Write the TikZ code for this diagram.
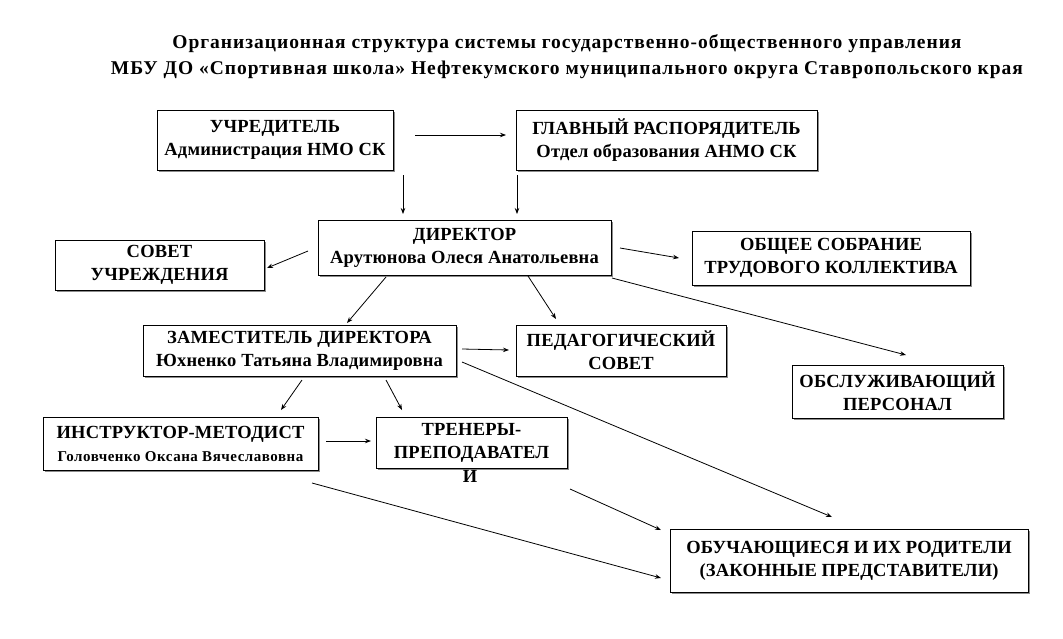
\documentclass[tikz,border=0pt]{standalone}
\usepackage{fontspec}
\setmainfont{Liberation Serif}[BoldFont={Liberation Serif Bold}]
\newfontfamily\boxfont{Liberation Serif}[BoldFont={Liberation Serif Bold},LetterSpace=1]
\newfontfamily\ttlfont{Liberation Serif}[BoldFont={Liberation Serif Bold},LetterSpace=5]
\newfontfamily\smfont{Liberation Serif}[BoldFont={Liberation Serif Bold},LetterSpace=3.5]
\usetikzlibrary{arrows.meta,shadows}
\begin{document}
\begin{tikzpicture}[x=1pt,y=-1pt,
  box/.style={draw=black,line width=0.9pt,fill=white,align=center,
    font=\boxfont\bfseries\fontsize{18.5}{23}\selectfont,inner sep=2pt,
    drop shadow={shadow xshift=1.6pt,shadow yshift=-1.6pt,fill=black!45,opacity=1}},
  arr/.style={draw=black,line width=0.8pt,-{Stealth[length=6pt,width=4.5pt]}},
  ttl/.style={font=\ttlfont\bfseries\fontsize{19.5}{24}\selectfont}]
\useasboundingbox[fill=white] (0,0) rectangle (1063,638);
\node[ttl] (t1) at (567,44) {Организационная структура системы государственно-общественного управления};
\node[ttl] (t2) at (567,70) {МБУ ДО «Спортивная школа» Нефтекумского муниципального округа Ставропольского края};

\node[box,minimum width=236,minimum height=60] (uch) at (275,140) {УЧРЕДИТЕЛЬ\\Администрация НМО СК};
\node[box,minimum width=301,minimum height=60] (gl) at (666.5,140) {ГЛАВНЫЙ РАСПОРЯДИТЕЛЬ\\Отдел образования АНМО СК};
\node[box,minimum width=293,minimum height=55] (dir) at (464.5,247.5) {ДИРЕКТОР\\Арутюнова Олеся Анатольевна};
\node[box,minimum width=209,minimum height=50] (sov) at (159.5,265) {СОВЕТ\\УЧРЕЖДЕНИЯ};
\node[box,minimum width=278,minimum height=54] (obs) at (831,258) {ОБЩЕЕ СОБРАНИЕ\\ТРУДОВОГО КОЛЛЕКТИВА};
\node[box,minimum width=313,minimum height=51] (zam) at (299.5,350.5) {ЗАМЕСТИТЕЛЬ ДИРЕКТОРА\\Юхненко Татьяна Владимировна};
\node[box,minimum width=210,minimum height=51] (ped) at (621,350.5) {ПЕДАГОГИЧЕСКИЙ\\СОВЕТ};
\node[box,minimum width=211,minimum height=53] (pers) at (897.5,391.5) {ОБСЛУЖИВАЮЩИЙ\\ПЕРСОНАЛ};
\node[box,minimum width=275,minimum height=53] (ins) at (180.5,443.5) {ИНСТРУКТОР-МЕТОДИСТ\\{\smfont\bfseries\fontsize{15}{20}\selectfont Головченко Оксана Вячеславовна}};
\node[box,minimum width=191,minimum height=51] (tr) at (471.5,442.5) {ТРЕНЕРЫ-\\ПРЕПОДАВАТЕЛ};
\node[font=\boxfont\bfseries\fontsize{18.5}{23}\selectfont] (trI) at (470,476) {И};
\node[box,minimum width=358,minimum height=63] (ob) at (849,560.5) {ОБУЧАЮЩИЕСЯ И ИХ РОДИТЕЛИ\\(ЗАКОННЫЕ ПРЕДСТАВИТЕЛИ)};

\coordinate (a1s) at (415,135); \coordinate (a1e) at (506,135);
\coordinate (a2s) at (403,175); \coordinate (a2e) at (403,214);
\coordinate (a3s) at (517,175); \coordinate (a3e) at (517,214);
\coordinate (a4s) at (308,251); \coordinate (a4e) at (267,268);
\coordinate (a5s) at (620,248); \coordinate (a5e) at (679,258);
\coordinate (a6s) at (386,277); \coordinate (a6e) at (347,323);
\coordinate (a7s) at (528,276); \coordinate (a7e) at (556,319);
\coordinate (a8s) at (612,278); \coordinate (a8e) at (906,355);
\coordinate (a9s) at (462,349); \coordinate (a9e) at (509,350);
\coordinate (a10s) at (302,380); \coordinate (a10e) at (281,410);
\coordinate (a11s) at (386,380); \coordinate (a11e) at (402,410);
\coordinate (a12s) at (462,362); \coordinate (a12e) at (832,517);
\coordinate (a13s) at (326,441); \coordinate (a13e) at (371,441);
\coordinate (a14s) at (312,483); \coordinate (a14e) at (661,578);
\coordinate (a15s) at (570,489); \coordinate (a15e) at (661,530);

\foreach \i in {1,...,15}{\draw[arr] (a\i s) -- (a\i e);}
\end{tikzpicture}
\end{document}
